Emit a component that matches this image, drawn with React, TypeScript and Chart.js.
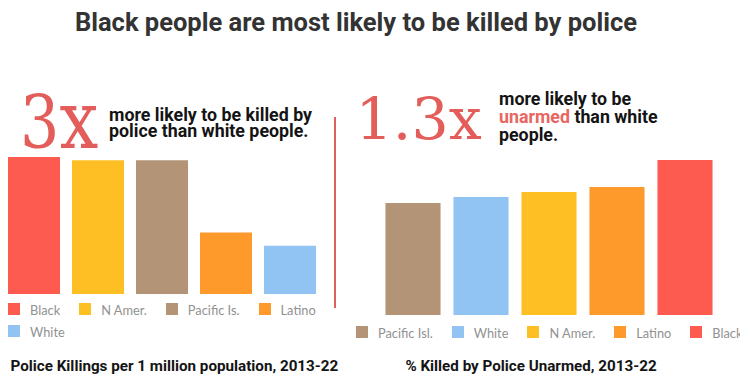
import React, { useEffect, useRef } from "react";
import { Chart, registerables } from "chart.js";

Chart.register(...registerables);

// ---- Data ----
const leftLabels = ["Black", "N Amer.", "Pacific Is.", "Latino", "White"];
const leftValues = [6.8, 6.65, 6.65, 3.05, 2.4]; // police killings per 1M population
const leftColors = ["#fd5b50", "#fdbf24", "#b39476", "#fd9a2b", "#91c4f3"];

const rightLabels = ["Pacific Isl.", "White", "N Amer.", "Latino", "Black"];
const rightValues = [11.2, 11.8, 12.3, 12.8, 15.5]; // % killed unarmed
const rightColors = ["#b39476", "#91c4f3", "#fdbf24", "#fd9a2b", "#fd5b50"];

const TITLE = "Black people are most likely to be killed by police";
const LEFT_CAPTION = "Police Killings per 1 million population, 2013-22";
const RIGHT_CAPTION = "% Killed by Police Unarmed, 2013-22";

const RED = "#e35d5a";

function BarChart(props: {
  labels: string[];
  values: number[];
  colors: string[];
  max: number;
  barPct: number;
  style: React.CSSProperties;
  width: number;
  height: number;
}) {
  const ref = useRef<HTMLCanvasElement | null>(null);
  useEffect(() => {
    if (!ref.current) return;
    const chart = new Chart(ref.current, {
      type: "bar",
      data: {
        labels: props.labels,
        datasets: [
          {
            data: props.values,
            backgroundColor: props.colors,
            borderWidth: 0,
            barPercentage: props.barPct,
            categoryPercentage: 1,
          },
        ],
      },
      options: {
        animation: false,
        responsive: false,
        maintainAspectRatio: false,
        layout: { padding: 0 },
        plugins: { legend: { display: false }, tooltip: { enabled: false } },
        scales: {
          x: { display: false },
          y: { display: false, min: 0, max: props.max },
        },
      },
    });
    return () => chart.destroy();
  }, []);
  return (
    <canvas
      ref={ref}
      width={props.width}
      height={props.height}
      style={{ position: "absolute", width: props.width, height: props.height, ...props.style }}
    />
  );
}

function Legend(props: { labels: string[]; colors: string[]; style: React.CSSProperties; gap: number }) {
  return (
    <div
      style={{
        position: "absolute",
        display: "flex",
        flexWrap: "wrap",
        columnGap: props.gap,
        rowGap: 10,
        overflow: "hidden",
        ...props.style,
      }}
    >
      {props.labels.map((l, i) => (
        <div key={l} style={{ display: "flex", alignItems: "flex-end", height: 12, whiteSpace: "nowrap" }}>
          <div style={{ width: 12, height: 12, background: props.colors[i], marginRight: 10, flex: "none" }} />
          <span
            style={{
              fontFamily: "Lato, sans-serif",
              fontSize: 12.8,
              lineHeight: "12px",
              color: "#919191",
              position: "relative",
              top: 1,
            }}
          >
            {l}
          </span>
        </div>
      ))}
    </div>
  );
}

const boldText: React.CSSProperties = {
  position: "absolute",
  fontFamily: "Roboto, sans-serif",
  fontWeight: 700,
  color: "#141414",
  whiteSpace: "nowrap",
};

const bigNum: React.CSSProperties = {
  position: "absolute",
  fontFamily: "'DejaVu Serif', serif",
  color: RED,
  whiteSpace: "nowrap",
  transformOrigin: "top left",
};

export default function App() {
  return (
    <div
      style={{
        position: "fixed",
        left: 0,
        top: 0,
        width: 750,
        height: 388,
        background: "#fff",
        overflow: "hidden",
      }}
    >
      <div
        style={{
          ...boldText,
          left: 0,
          width: 712,
          textAlign: "center",
          top: 10.2,
          fontSize: 25.5,
          lineHeight: "25.5px",
          color: "#333",
        }}
      >
        {TITLE}
      </div>

      {/* Left headline */}
      <div
        style={{
          ...bigNum,
          left: 20.4,
          top: 86.6,
          display: "flex",
          alignItems: "baseline",
          transform: "scaleX(0.86)",
        }}
      >
        <span style={{ fontSize: 72, lineHeight: "72px" }}>3</span>
        <span style={{ fontSize: 80, lineHeight: "66.4px" }}>x</span>
      </div>
      <div style={{ ...boldText, left: 109, top: 106.7, fontSize: 17.8, lineHeight: "16.6px" }}>
        more likely to be killed by
        <br />
        police than white people.
      </div>

      {/* Divider */}
      <div style={{ position: "absolute", left: 334, top: 117, width: 2, height: 191, background: RED }} />

      {/* Right headline */}
      <div style={{ ...bigNum, left: 355.6, top: 90.2, fontSize: 58.5, lineHeight: "58.5px" }}>1.3x</div>
      <div style={{ ...boldText, left: 499, top: 90, fontSize: 17.8, lineHeight: "17.8px" }}>
        more likely to be
        <br />
        <span style={{ color: "#e8665f" }}>unarmed</span> than white
        <br />
        people.
      </div>

      <BarChart
        labels={leftLabels}
        values={leftValues}
        colors={leftColors}
        max={7.7}
        barPct={0.8125}
        width={320}
        height={155}
        style={{ left: 2, top: 139 }}
      />
      <BarChart
        labels={rightLabels}
        values={rightValues}
        colors={rightColors}
        max={16}
        barPct={0.81}
        width={340}
        height={160}
        style={{ left: 379, top: 155 }}
      />

      <Legend labels={leftLabels} colors={leftColors} gap={19} style={{ left: 8, top: 303, width: 330 }} />
      <Legend labels={rightLabels} colors={rightColors} gap={19} style={{ left: 356, top: 325.5, width: 384, flexWrap: "nowrap" }} />

      <div style={{ ...boldText, left: 10.5, top: 358.9, fontSize: 15.2, lineHeight: "15.2px" }}>{LEFT_CAPTION}</div>
      <div style={{ ...boldText, left: 331, width: 400, textAlign: "center", top: 358.9, fontSize: 15.2, lineHeight: "15.2px" }}>
        {RIGHT_CAPTION}
      </div>
    </div>
  );
}
